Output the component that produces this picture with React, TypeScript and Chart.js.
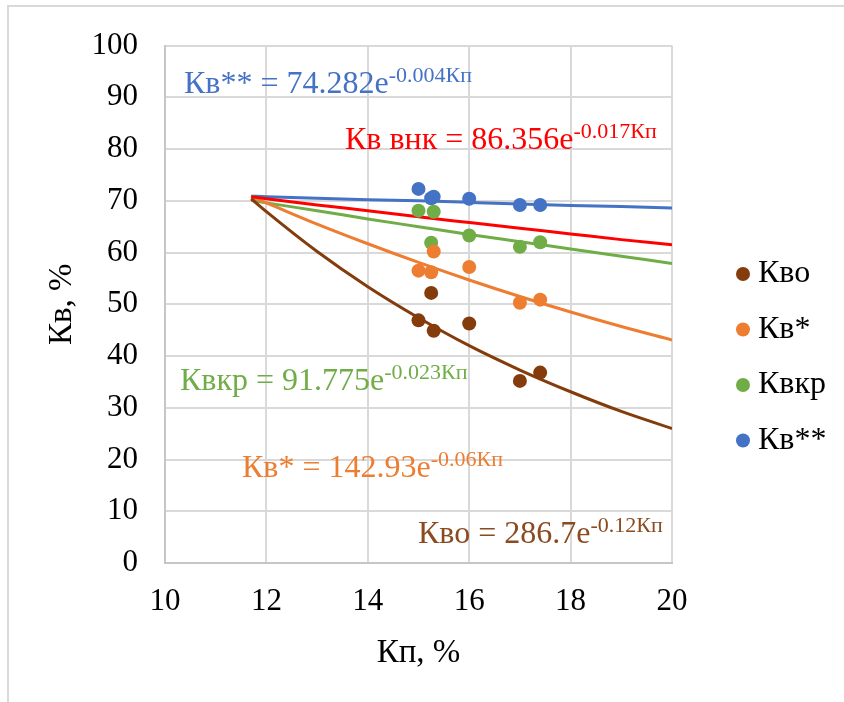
import React, { useEffect, useRef } from 'react';
import { Chart, registerables } from 'chart.js';

Chart.register(...registerables);

const FONT = '"Liberation Serif", "Times New Roman", serif';

// Scatter data (Кп, %  ->  Кв, %)
const seriesNames = ['Кво', 'Кв*', 'Квкр', 'Кв**'];
const seriesColors = ['#843C0C', '#ED7D31', '#70AD47', '#4472C4'];
const kpX = [15, 15.25, 15.3, 16, 17, 17.4];
const kvo = [46.9, 52.2, 44.9, 46.3, 35.2, 36.8];
const kvStar = [56.5, 56.2, 60.2, 57.2, 50.3, 50.9];
const kvkr = [68.1, 61.9, 67.9, 63.3, 61.1, 62.0];
const kvStar2 = [72.3, 70.5, 70.8, 70.4, 69.2, 69.2];
const seriesValues = [kvo, kvStar, kvkr, kvStar2];

// Trend lines
const trendX = [11.7, 12, 13, 14, 15, 16, 17, 18, 19, 20];
const trendKvo = [70.4, 67.9, 60.2, 53.4, 47.4, 42.0, 37.3, 33.1, 29.3, 26.0];
const trendKvStar = [70.8, 69.6, 65.5, 61.7, 58.1, 54.7, 51.5, 48.5, 45.7, 43.1];
const trendKvkr = [70.1, 69.6, 68.1, 66.5, 65.0, 63.5, 62.1, 60.7, 59.3, 57.9];
const trendKvStar2 = [70.9, 70.8, 70.5, 70.2, 70.0, 69.7, 69.4, 69.1, 68.9, 68.6];
const trendKvVnk = [70.8, 70.4, 69.2, 68.1, 66.9, 65.8, 64.7, 63.6, 62.5, 61.5];
const trendValues = [trendKvo, trendKvStar, trendKvkr, trendKvStar2];
const vnkColor = '#FF0000';

// Axis ticks
const xMin = 10, xMax = 20, xStep = 2;
const yMin = 0, yMax = 100, yStep = 10;
const xTitle = 'Кп, %';
const yTitle = 'Кв, %';

// Trend equations
const eqMain = ['Кво = 286.7e', 'Кв* = 142.93e', 'Квкр = 91.775e', 'Кв** = 74.282e', 'Кв внк = 86.356e'];
const eqPower = ['-0.12Кп', '-0.06Кп', '-0.023Кп', '-0.004Кп', '-0.017Кп'];
const eqColors = ['#8B4A1F', '#ED7D31', '#70AD47', '#4472C4', '#FF0000'];

const eqPos: [number, number][] = [
  [418, 543],
  [242, 477],
  [180, 390],
  [184, 93],
  [345, 149],
];

const equationsPlugin = {
  id: 'equations',
  afterDatasetsDraw(chart: any) {
    const ctx = chart.ctx;
    ctx.save();
    ctx.textBaseline = 'alphabetic';
    ctx.textAlign = 'left';
    eqMain.forEach((t, i) => {
      const [x, y] = eqPos[i];
      ctx.fillStyle = eqColors[i];
      ctx.font = `32px ${FONT}`;
      ctx.fillText(t, x, y);
      const w = ctx.measureText(t).width;
      ctx.font = `22px ${FONT}`;
      ctx.fillText(eqPower[i], x + w, y - 11);
    });
    ctx.restore();
  },
};

const legendPlugin = {
  id: 'customLegend',
  afterDraw(chart: any) {
    const ctx = chart.ctx;
    ctx.save();
    ctx.font = `32px ${FONT}`;
    ctx.textBaseline = 'middle';
    ctx.textAlign = 'left';
    const ys = [274, 329.5, 385, 440.5];
    seriesNames.forEach((name, i) => {
      const y = ys[i];
      ctx.fillStyle = seriesColors[i];
      ctx.beginPath();
      ctx.arc(743, y, 7, 0, Math.PI * 2);
      ctx.fill();
      ctx.fillStyle = '#000';
      ctx.fillText(name, 758, y);
    });
    ctx.restore();
  },
};

export default function App() {
  const ref = useRef<HTMLCanvasElement>(null);
  useEffect(() => {
    document.body.style.margin = '0';
    if (!ref.current) return;
    const pointSets = seriesNames.map((name, i) => ({
      type: 'scatter' as const,
      label: name,
      data: kpX.map((x, j) => ({ x, y: seriesValues[i][j] })),
      backgroundColor: seriesColors[i],
      borderColor: seriesColors[i],
      pointRadius: 7,
      pointHoverRadius: 7,
      borderWidth: 0,
      showLine: false,
      order: 0,
    }));
    const trendSets = trendValues.map((vals, i) => ({
      type: 'line' as const,
      label: 'trend ' + seriesNames[i],
      data: trendX.map((x, j) => ({ x, y: vals[j] })),
      borderColor: seriesColors[i],
      backgroundColor: seriesColors[i],
      borderWidth: 3,
      pointRadius: 0,
      fill: false,
      cubicInterpolationMode: 'monotone' as const,
      order: 2,
    }));
    const vnkSet = {
      type: 'line' as const,
      label: 'Кв внк',
      data: trendX.map((x, j) => ({ x, y: trendKvVnk[j] })),
      borderColor: vnkColor,
      backgroundColor: vnkColor,
      borderWidth: 3,
      pointRadius: 0,
      fill: false,
      cubicInterpolationMode: 'monotone' as const,
      order: 1,
    };
    const chart = new Chart(ref.current, {
      type: 'scatter',
      data: { datasets: [...pointSets, ...trendSets, vnkSet] as any },
      options: {
        animation: false,
        responsive: true,
        maintainAspectRatio: false,
        layout: { padding: { top: 40, right: 172, bottom: 0, left: 0 } },
        plugins: {
          legend: { display: false },
          tooltip: { enabled: false },
          title: { display: false },
        },
        scales: {
          x: {
            type: 'linear',
            min: xMin,
            max: xMax,
            ticks: {
              stepSize: xStep,
              padding: 20,
              color: '#000',
              font: { family: FONT, size: 31 },
            },
            grid: { color: '#d9d9d9', lineWidth: 2, drawTicks: false },
            border: { color: '#c6c6c6', width: 2 },
            title: {
              display: true,
              text: xTitle,
              color: '#000',
              font: { family: FONT, size: 33 },
              padding: { top: 0, bottom: 29 },
            },
            afterFit: (s: any) => { s.height = 139; },
          },
          y: {
            type: 'linear',
            min: yMin,
            max: yMax,
            ticks: {
              stepSize: yStep,
              padding: 27,
              color: '#000',
              font: { family: FONT, size: 31 },
            },
            grid: { color: '#d9d9d9', lineWidth: 2, drawTicks: false },
            border: { color: '#c6c6c6', width: 2 },
            title: {
              display: true,
              text: yTitle,
              color: '#000',
              font: { family: FONT, size: 33 },
              padding: { top: 43, bottom: 0 },
            },
            afterFit: (s: any) => { s.width = 165; },
          },
        },
      },
      plugins: [equationsPlugin, legendPlugin],
    });
    return () => chart.destroy();
  }, []);
  return (
    <div style={{ position: 'relative', width: 844, height: 702, overflow: 'hidden', background: '#fff' }}>
      <div
        style={{
          position: 'absolute',
          left: 7,
          top: 5,
          width: 1000,
          height: 1000,
          borderTop: '2px solid #d9d9d9',
          borderLeft: '2px solid #d9d9d9',
          boxSizing: 'border-box',
        }}
      />
      <canvas ref={ref} style={{ position: 'absolute', left: 0, top: 0 }} />
    </div>
  );
}
